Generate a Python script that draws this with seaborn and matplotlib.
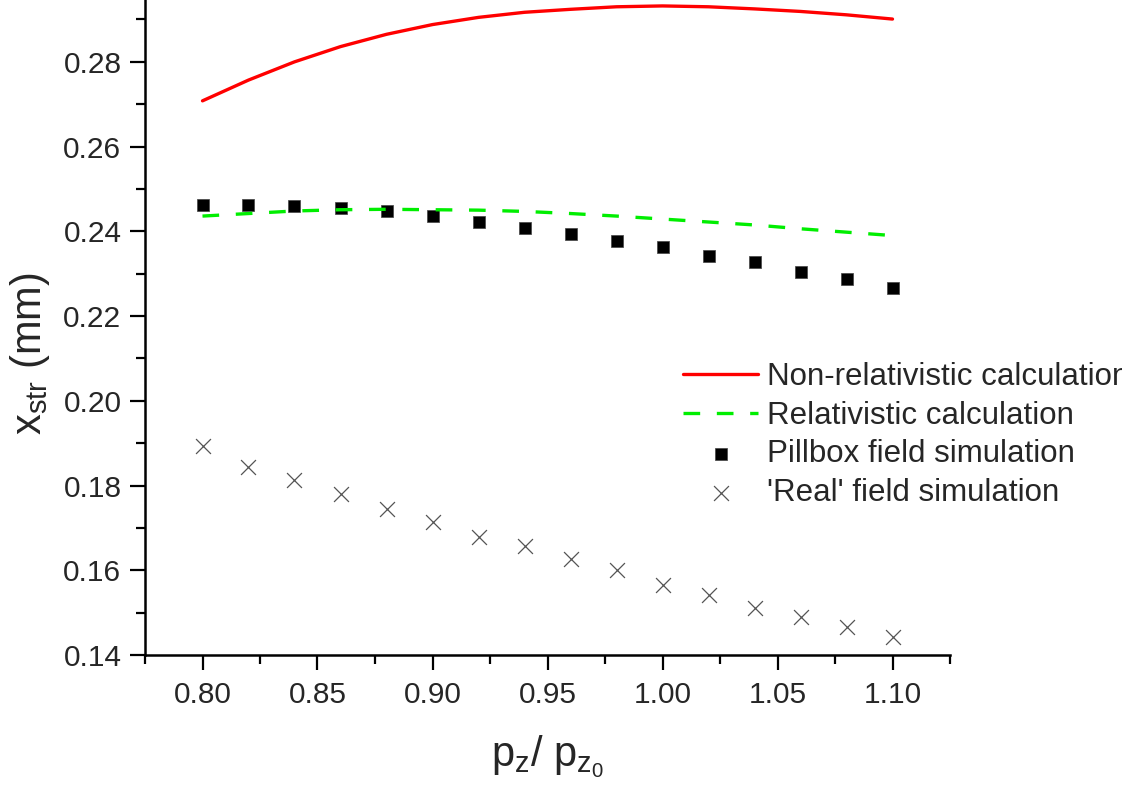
import pandas as pd
import seaborn as sns
import matplotlib.pyplot as plt
import matplotlib.ticker as mticker

# values
pz_ratio = [0.80, 0.82, 0.84, 0.86, 0.88, 0.90, 0.92, 0.94,
            0.96, 0.98, 1.00, 1.02, 1.04, 1.06, 1.08, 1.10]
non_rel = [0.2708, 0.2757, 0.2800, 0.2836, 0.2865, 0.2888, 0.2905, 0.2917,
           0.2924, 0.2930, 0.2932, 0.2930, 0.2925, 0.2919, 0.2911, 0.2901]
rel = [0.2436, 0.2442, 0.2448, 0.2451, 0.2452, 0.2451, 0.2450, 0.2447,
       0.2442, 0.2436, 0.2429, 0.2422, 0.2415, 0.2406, 0.2398, 0.2390]
pillbox = [0.2462, 0.2462, 0.2459, 0.2455, 0.2448, 0.2437, 0.2421, 0.2408,
           0.2394, 0.2378, 0.2362, 0.2342, 0.2327, 0.2305, 0.2287, 0.2266]
real_field = [0.1894, 0.1844, 0.1813, 0.1780, 0.1745, 0.1715, 0.1679, 0.1657,
              0.1627, 0.1600, 0.1565, 0.1541, 0.1511, 0.1490, 0.1466, 0.1443]

labels = ["Non-relativistic calculation", "Relativistic calculation",
          "Pillbox field simulation", "'Real' field simulation"]

df = pd.DataFrame({"p": pz_ratio, "non_rel": non_rel, "rel": rel,
                   "pillbox": pillbox, "real": real_field})

sns.set_style("ticks")
plt.rcParams["font.family"] = ["Liberation Sans", "DejaVu Sans"]
plt.rcParams["mathtext.fontset"] = "custom"
plt.rcParams["mathtext.rm"] = "Liberation Sans"
plt.rcParams["mathtext.it"] = "Liberation Sans:italic"

fig = plt.figure(figsize=(11.22, 7.92), dpi=100)
ax = fig.add_axes([145 / 1122, 137 / 792, 805 / 1122, 655 / 792])

sns.lineplot(data=df, x="p", y="non_rel", ax=ax, color="#ff0000", lw=2.4,
             label=labels[0])
sns.lineplot(data=df, x="p", y="rel", ax=ax, color="#00ee00", lw=2.4,
             linestyle=(0, (5, 5)), label=labels[1])
sns.scatterplot(data=df, x="p", y="pillbox", ax=ax, marker="s", s=64,
                color="black", edgecolor="#444444", linewidth=0.5,
                label=labels[2])
sns.scatterplot(data=df, x="p", y="real", ax=ax, marker="x", s=115,
                color="#555555", linewidth=0.9, label=labels[3])

ax.set_xlim(0.775, 1.125)
ax.set_ylim(0.14, 0.2946)
ax.xaxis.set_major_locator(mticker.MultipleLocator(0.05))
ax.xaxis.set_minor_locator(mticker.MultipleLocator(0.025))
ax.yaxis.set_major_locator(mticker.MultipleLocator(0.02))
ax.yaxis.set_minor_locator(mticker.MultipleLocator(0.01))
ax.xaxis.set_major_formatter(mticker.FormatStrFormatter("%.2f"))
ax.yaxis.set_major_formatter(mticker.FormatStrFormatter("%.2f"))

ax.tick_params(which="major", direction="out", length=11, width=1.6,
               labelsize=21.5, color="black")
ax.tick_params(which="minor", direction="out", length=6.5, width=1.6,
               color="black")
ax.tick_params(axis="y", pad=6)
ax.tick_params(axis="x", pad=8)

sns.despine(ax=ax, top=True, right=True)
for side in ["left", "bottom"]:
    ax.spines[side].set_linewidth(1.8)
    ax.spines[side].set_color("black")

ax.set_xlabel(r"$\mathregular{p_z/\ p_{z_0}}$", fontsize=30)
ax.set_ylabel(r"$\mathregular{x_{str}}$ (mm)", fontsize=30)
ax.xaxis.set_label_coords(0.5, -0.12)
ax.yaxis.set_label_coords(-0.115, 0.46)

ax.legend(loc="upper left", bbox_to_anchor=(683 / 1122, 1 - 362 / 792),
          bbox_transform=fig.transFigure, frameon=False, fontsize=22.5,
          handlelength=2.4, handletextpad=0.3, labelspacing=0.28,
          borderpad=0, borderaxespad=0, scatterpoints=1)

fig.savefig("out.png", dpi=100)
